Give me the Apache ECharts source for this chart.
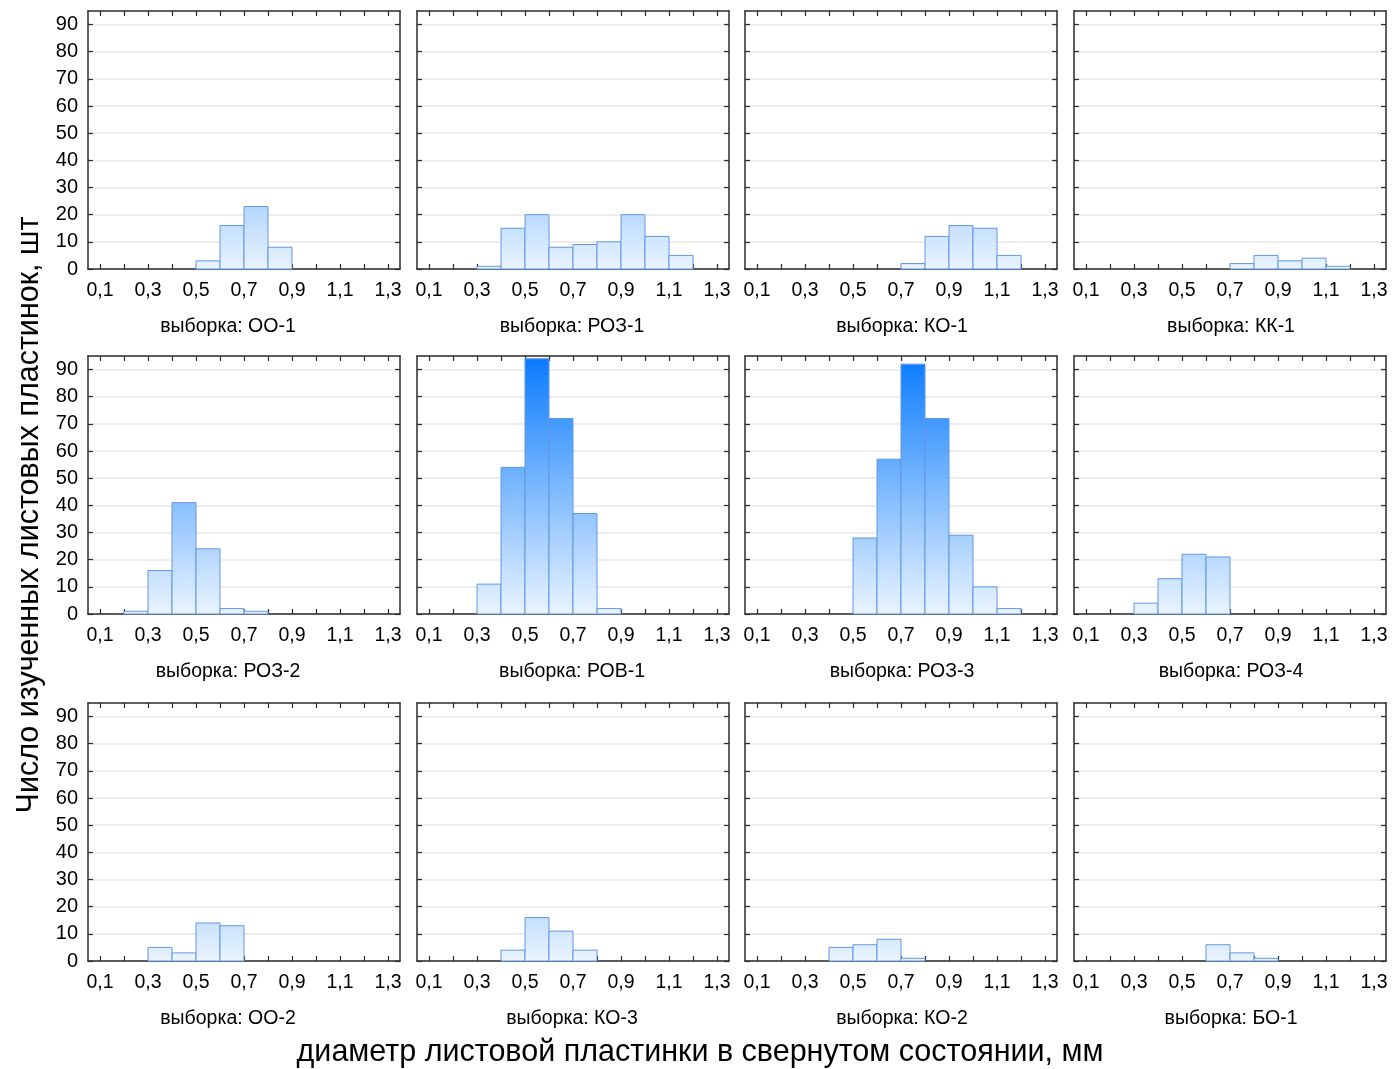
<!DOCTYPE html>
<html>
<head>
<meta charset="utf-8">
<script src="https://cdn.jsdelivr.net/npm/echarts@6/dist/echarts.min.js"></script>
<style>
  html, body { margin: 0; padding: 0; background: #fff; }
  #main { width: 1393px; height: 1069px; }
</style>
</head>
<body>
<div id="main"></div>
<script>
// нижние границы интервалов (шаг 0,1)
const binStarts = [0.1, 0.2, 0.3, 0.4, 0.5, 0.6, 0.7, 0.8, 0.9, 1.0, 1.1, 1.2];
const binWidth = 0.1;

// число пластинок по интервалам для каждой выборки
const countsOO1  = [0, 0, 0, 0, 3, 16, 23, 8, 0, 0, 0, 0];
const countsROZ1 = [0, 0, 1, 15, 20, 8, 9, 10, 20, 12, 5, 0];
const countsKO1  = [0, 0, 0, 0, 0, 0, 2, 12, 16, 15, 5, 0];
const countsKK1  = [0, 0, 0, 0, 0, 0, 2, 5, 3, 4, 1, 0];
const countsROZ2 = [0, 1, 16, 41, 24, 2, 1, 0, 0, 0, 0, 0];
const countsROV1 = [0, 0, 11, 54, 94, 72, 37, 2, 0, 0, 0, 0];
const countsROZ3 = [0, 0, 0, 0, 28, 57, 92, 72, 29, 10, 2, 0];
const countsROZ4 = [0, 0, 4, 13, 22, 21, 0, 0, 0, 0, 0, 0];
const countsOO2  = [0, 0, 5, 3, 14, 13, 0, 0, 0, 0, 0, 0];
const countsKO3  = [0, 0, 0, 4, 16, 11, 4, 0, 0, 0, 0, 0];
const countsKO2  = [0, 0, 0, 5, 6, 8, 1, 0, 0, 0, 0, 0];
const countsBO1  = [0, 0, 0, 0, 0, 6, 3, 1, 0, 0, 0, 0];

const sampleNames = ['ОО-1', 'РОЗ-1', 'КО-1', 'КК-1', 'РОЗ-2', 'РОВ-1', 'РОЗ-3', 'РОЗ-4', 'ОО-2', 'КО-3', 'КО-2', 'БО-1'];
const sampleCounts = [countsOO1, countsROZ1, countsKO1, countsKK1, countsROZ2, countsROV1, countsROZ3, countsROZ4, countsOO2, countsKO3, countsKO2, countsBO1];

// подписи осей
const xTickValues = [0.1, 0.2, 0.3, 0.4, 0.5, 0.6, 0.7, 0.8, 0.9, 1.0, 1.1, 1.2, 1.3];
const xLabelValues = [0.1, 0.3, 0.5, 0.7, 0.9, 1.1, 1.3];
const yTickValues = [0, 10, 20, 30, 40, 50, 60, 70, 80, 90];

const xTitle = 'диаметр листовой пластинки в свернутом состоянии, мм';
const yTitle = 'Число изученных листовых пластинок, шт';

// раскладка панелей
const colLeft = [88, 417, 745, 1074];
const rowTop = [11, 356, 703];
const panelW = 312;
const panelH = 258;
const labelCenterX = [228, 572, 902, 1231];
const yMax = 95;

const font = 'Arial, "Liberation Sans", sans-serif';
const frameColor = '#2b2b2b';

const chart = echarts.init(document.getElementById('main'));

// цвет верха столбика зависит от его высоты (как в Statistica)
const lowRGB = [234, 244, 254];
const highRGB = [8, 122, 254];
function topColor(v) {
    const t = Math.min(v / yMax, 1);
    const c = lowRGB.map((l, k) => Math.round(l + (highRGB[k] - l) * t));
    return 'rgb(' + c.join(',') + ')';
}

const option = {
    animation: false,
    backgroundColor: '#fff',
    textStyle: { fontFamily: font },
    grid: [], xAxis: [], yAxis: [], series: [], graphic: []
};

sampleNames.forEach((name, i) => {
    const row = Math.floor(i / 4);
    const col = i % 4;
    option.grid.push({
        left: colLeft[col], top: rowTop[row], width: panelW, height: panelH,
        outerBoundsMode: 'none'
    });
    const line = { show: true, onZero: false, lineStyle: { color: frameColor, width: 1.5 } };
    const tickStyle = { color: frameColor, width: 1.2 };
    // нижняя и верхняя ось X
    option.xAxis.push({
        type: 'value', gridIndex: i, min: 0.05, max: 1.35, position: 'bottom',
        axisLine: line,
        axisTick: { show: true, inside: true, length: 5, customValues: xTickValues, lineStyle: tickStyle },
        axisLabel: {
            customValues: xLabelValues, fontSize: 19.5, color: '#000', margin: 12,
            formatter: v => v.toFixed(1).replace('.', ',')
        },
        splitLine: { show: false }
    });
    option.xAxis.push({
        type: 'value', gridIndex: i, min: 0.05, max: 1.35, position: 'top',
        axisLine: line,
        axisTick: { show: true, inside: true, length: 5, customValues: xTickValues, lineStyle: tickStyle },
        axisLabel: { show: false },
        splitLine: { show: false }
    });
    // левая и правая ось Y
    option.yAxis.push({
        type: 'value', gridIndex: i, min: 0, max: yMax, interval: 10, position: 'left',
        axisLine: line,
        axisTick: { show: true, inside: true, length: 5, customValues: yTickValues, lineStyle: tickStyle },
        axisLabel: { show: col === 0, customValues: yTickValues, fontSize: 20, color: '#000', margin: 10 },
        splitLine: { show: true, lineStyle: { color: '#e9e9e9', width: 1.5 } }
    });
    option.yAxis.push({
        type: 'value', gridIndex: i, min: 0, max: yMax, interval: 10, position: 'right',
        axisLine: line,
        axisTick: { show: true, inside: true, length: 5, customValues: yTickValues, lineStyle: tickStyle },
        axisLabel: { show: false },
        splitLine: { show: false }
    });

    const data = [];
    sampleCounts[i].forEach((v, k) => {
        if (v > 0) data.push([binStarts[k], binStarts[k] + binWidth, v]);
    });
    option.series.push({
        type: 'custom',
        xAxisIndex: i * 2,
        yAxisIndex: i * 2,
        encode: { x: [0, 1], y: 2 },
        data: data,
        renderItem: (params, api) => {
            const lo = api.value(0), hi = api.value(1), v = api.value(2);
            const p0 = api.coord([lo, v]);
            const p1 = api.coord([hi, 0]);
            return {
                type: 'rect',
                shape: { x: p0[0], y: p0[1], width: p1[0] - p0[0], height: p1[1] - p0[1] },
                style: {
                    fill: new echarts.graphic.LinearGradient(0, 0, 0, 1, [
                        { offset: 0, color: topColor(v) },
                        { offset: 1, color: 'rgb(234,244,254)' }
                    ]),
                    stroke: '#6396e4',
                    lineWidth: 1
                }
            };
        }
    });

    option.graphic.push({
        type: 'text',
        x: labelCenterX[col],
        y: rowTop[row] + panelH + 58,
        style: {
            text: 'выборка: ' + name,
            fontSize: 19.5, fontFamily: font, fill: '#000',
            textAlign: 'center', textVerticalAlign: 'middle'
        }
    });
});

option.graphic.push({
    type: 'text', x: 700, y: 1053,
    style: { text: xTitle, fontSize: 30.5, fontFamily: font, fill: '#000', textAlign: 'center', textVerticalAlign: 'middle' }
});
option.graphic.push({
    type: 'text', x: 30, y: 515, rotation: Math.PI / 2,
    style: { text: yTitle, fontSize: 30.5, fontFamily: font, fill: '#000', textAlign: 'center', textVerticalAlign: 'middle' }
});

chart.setOption(option);
</script>
</body>
</html>
